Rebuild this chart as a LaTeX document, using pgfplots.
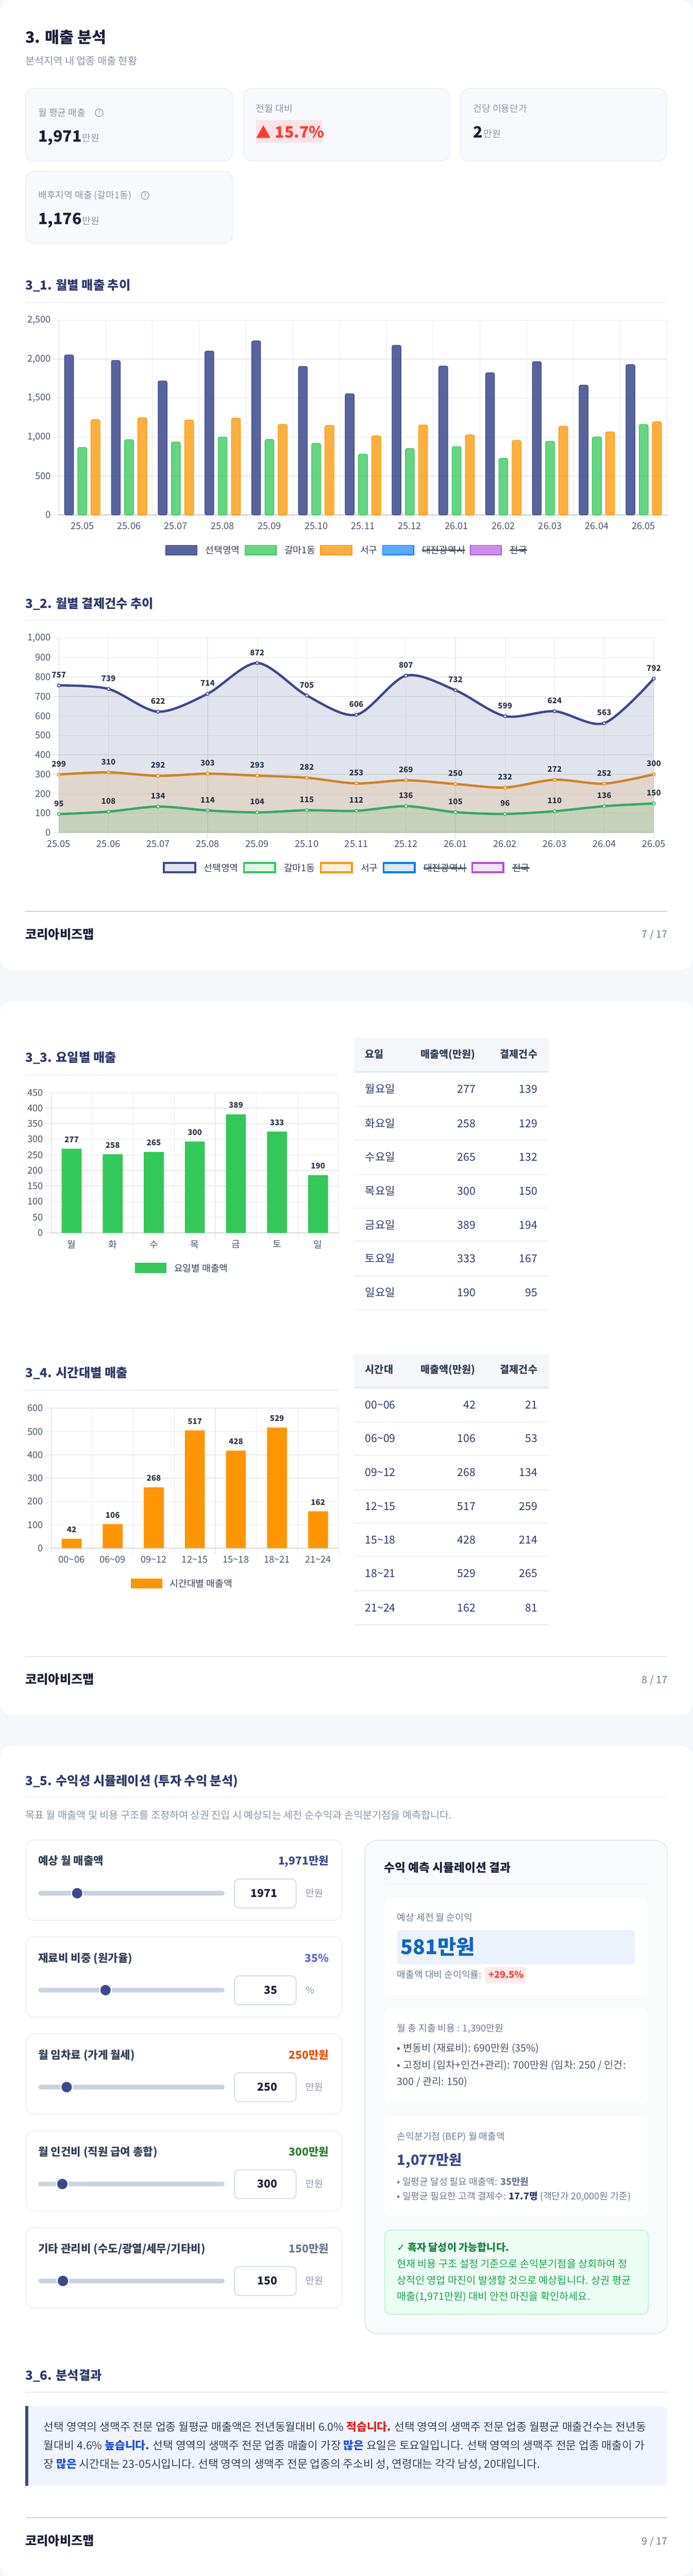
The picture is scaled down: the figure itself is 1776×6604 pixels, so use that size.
\documentclass[border=0pt]{standalone}
\usepackage{fontspec}
\usepackage{pgfplots}
\usepackage{pgfplotstable}
\pgfplotsset{compat=1.18}
\setmainfont{Noto Sans CJK KR}
\newfontfamily\djf{DejaVu Sans}
\definecolor{pagebg}{HTML}{F5F7FB}
\definecolor{navy}{HTML}{3B4A8A}
\definecolor{grn}{HTML}{34C759}
\definecolor{org}{HTML}{FF9500}
\definecolor{blu}{HTML}{007AFF}
\definecolor{pur}{HTML}{AF52DE}
\definecolor{ttl}{HTML}{2C3A68}
\definecolor{ink}{HTML}{1A2138}
\definecolor{mut}{HTML}{8A94A6}
\definecolor{rulec}{HTML}{F0F1F6}
\definecolor{cardbg}{HTML}{F7F9FC}
\definecolor{cardln}{HTML}{EEF0F5}
\definecolor{tk}{HTML}{475569}
\definecolor{gridc}{HTML}{EAEAEA}
\definecolor{dl}{HTML}{2D3748}
\definecolor{red}{HTML}{FF3B30}
\definecolor{pnk}{HTML}{F8E4E6}
\definecolor{trk}{HTML}{C9D3E0}
\definecolor{inb}{HTML}{CBD5E1}
\definecolor{lbl}{HTML}{334155}
\definecolor{gry}{HTML}{6B7A90}
\definecolor{bodyc}{HTML}{4A5568}
\definecolor{gtx}{HTML}{15803D}
\definecolor{tbv}{HTML}{2C3A68}
\definecolor{D9}{HTML}{D9D9D9}
\definecolor{F4}{HTML}{F4F6FA}
\definecolor{E2}{HTML}{E2E8F0}
\definecolor{F8}{HTML}{F8FAFC}
\definecolor{B1}{HTML}{EBF2FB}
\definecolor{B2}{HTML}{1565C0}
\definecolor{B3}{HTML}{F0F4FF}
\definecolor{B4}{HTML}{1D4ED8}
\definecolor{R2}{HTML}{DC2020}
\definecolor{G1}{HTML}{ECFDF3}
\definecolor{G2}{HTML}{BBF7D0}
\definecolor{G3}{HTML}{16A34A}
\definecolor{S2}{HTML}{5C6AC4}
\definecolor{S3}{HTML}{E65100}
\definecolor{S4}{HTML}{2E7D32}

\newcommand\tx[6][base west]{\node[anchor=#1,inner sep=0pt,text=#5] at (#2,{#3+0.36*#4}) {\fontsize{#4}{#4}\selectfont #6};}
\newcommand\rr[8]{\draw[rounded corners=#5,fill=#6,draw=#7,line width=#8] (#1,#2) rectangle (#3,#4);}
\newcommand\hr[4]{\fill[#4] (#1,{#3-1.5}) rectangle (#2,{#3+1.5});}
\newcommand\tl{\textasciitilde}
\newcommand\strike[1]{\setbox0\hbox{#1}\copy0\kern-\wd0\rule[0.3em]{\wd0}{2.5pt}}

\pgfplotsset{
 /pgf/number format/assume math mode=true,
 /pgf/number format/set thousands separator={,},
 base/.style={
  scale only axis, axis lines=left, axis line style={-},
  enlargelimits=false, clip=false,
  tick align=outside, major tick length=16pt, minor tick length=16pt,
  tick label style={font=\fontsize{24}{24}\selectfont, text=tk},
  yticklabel style={inner xsep=4pt},
  major y tick style={draw=gridc,line width=2pt},
  ymajorgrids, major y grid style={draw=gridc,line width=2pt},
  x axis line style={draw=D9,line width=3pt},
  y axis line style={draw=D9,line width=1.5pt},
  legend style={draw=none,fill=none,font=\fontsize{24}{24}\selectfont,text=lbl,
    legend cell align=left, anchor=center, inner sep=0pt,
    nodes={inner xsep=0pt,inner ysep=0pt},
    /tikz/every even column/.append style={column sep=12pt},
    /tikz/every odd column/.append style={column sep=20pt}},
  legend columns=-1,
 },
 catgrid/.style={
  major x tick style={draw=none},
  minor x tick style={draw=gridc,line width=1.5pt},
  xminorgrids, minor x grid style={draw=gridc,line width=1.5pt},
 },
 sw/.style n args={3}{legend image code/.code={\draw[draw=#1,fill=#2,line width=#3] (0pt,-12pt) rectangle (80pt,12pt);}},
 dlab/.style={nodes near coords, nodes near coords style={anchor=center,yshift=#1,inner sep=0pt,text=dl,font=\fontsize{20}{20}\selectfont\bfseries}},
 sliderax/.style={hide axis, scale only axis, width=443pt, height=12pt, clip=false, ymin=-1, ymax=1, xmin=0},
}

\pgfplotstableread{
x    sel  gal  seo
0.5  2055 867  1222
1.5  1984 966  1247
2.5  1720 936  1219
3.5  2104 1000 1242
4.5  2234 969  1161
5.5  1907 918  1150
6.5  1557 780  1015
7.5  2178 851  1155
8.5  1912 877  1028
9.5  1825 726  956
10.5 1968 946  1138
11.5 1667 1002 1066
12.5 1930 1161 1196
}\monthsales
\pgfplotstableread{
x  sel gal seo
0  757 95  299
1  739 108 310
2  622 134 292
3  714 114 303
4  872 104 293
5  705 115 282
6  606 112 253
7  807 136 269
8  732 105 250
9  599 96  232
10 624 110 272
11 563 136 252
12 792 150 300
}\monthcount
\pgfplotstableread{
x   y   lab
0.5 270 277
1.5 252 258
2.5 259 265
3.5 293 300
4.5 380 389
5.5 325 333
6.5 185 190
}\daysales
\pgfplotstableread{
x   y   lab
0.5 40.5 42
1.5 103 106
2.5 261 268
3.5 505 517
4.5 418 428
5.5 517 529
6.5 158 162
}\timesales

\begin{document}
\begin{tikzpicture}
\useasboundingbox (0pt,0pt) rectangle (1776pt,-6604pt);
\fill[pagebg] (0pt,0pt) rectangle (1776pt,-6604pt);
\begin{scope}[x=1pt,y=-1pt]
% page cards
\fill[white,rounded corners=32pt] (0,0) rectangle (1776,2486);
\fill[white,rounded corners=32pt] (0,2566) rectangle (1776,4396);
\fill[white,rounded corners=32pt] (0,4476) rectangle (1776,6604);
% heading
\tx{65}{96}{40}{ink}{\bfseries 3. 매출 분석}
\tx{65}{156}{26}{mut}{분석지역 내 업종 매출 현황}
\rr{66}{227}{596}{413}{22pt}{cardbg}{cardln}{2.5pt}
\rr{624}{227}{1152}{413}{22pt}{cardbg}{cardln}{2.5pt}
\rr{1180}{227}{1709}{413}{22pt}{cardbg}{cardln}{2.5pt}
\rr{66}{439}{596}{624}{22pt}{cardbg}{cardln}{2.5pt}
\tx{98}{289}{24}{mut}{월 평균 매출}
\draw[mut,line width=1.6pt] (254,289) circle (10);
\tx[base]{254}{289}{15}{mut}{?}
\tx{98}{349}{40}{ink}{\bfseries 1,971}
\tx{211}{354}{24}{mut}{만원}
\tx{656}{279}{24}{mut}{전월 대비}
\fill[pnk] (656,308) rectangle (826,366);
\fill[red] (657,353.5) -- (675,321) -- (693,353.5) -- cycle;
\tx{705}{339}{40}{red}{\bfseries 15.7\%}
\tx{1213}{279}{24}{mut}{건당 이용단가}
\tx{1213}{339}{40}{ink}{\bfseries 2}
\tx{1240}{343}{24}{mut}{만원}
\tx{98}{501}{24}{mut}{배후지역 매출 (갈마1동)}
\draw[mut,line width=1.6pt] (372,501) circle (10);
\tx[base]{372}{501}{15}{mut}{?}
\tx{98}{561}{40}{ink}{\bfseries 1,176}
\tx{211}{566}{24}{mut}{만원}
% section 3_1
\tx{65}{731}{32}{ttl}{\bfseries 3\_1. 월별 매출 추이}
\hr{65}{1710}{775}{rulec}
% section 3_2
\tx{65}{1548}{32}{ttl}{\bfseries 3\_2. 월별 결제건수 추이}
\hr{65}{1710}{1590}{rulec}
\fill[inb] (65,2335.5) rectangle (1711,2337.5);
\tx{65}{2395}{32}{ink}{\bfseries 코리아비즈맵}
\tx[base east]{1711}{2395}{26}{gry}{7 / 17}
% section 3_3
\tx{65}{2711}{32}{ttl}{\bfseries 3\_3. 요일별 매출}
\hr{65}{868}{2756}{rulec}
\fill[F4] (908,2662) rectangle (1406,2749);
\fill[E2] (908,2746) rectangle (1406,2750);
\tx{936}{2703}{26}{lbl}{\bfseries 요일}
\tx[base east]{1219}{2703}{26}{lbl}{\bfseries 매출액(만원)}
\tx[base east]{1378}{2703}{26}{lbl}{\bfseries 결제건수}
\foreach \yy/\ca/\cb/\cc/\cl in {2792/월요일/277/139/2837,2880/화요일/258/129/2923,2966/수요일/265/132/3011,3054/목요일/300/150/3097,3140/금요일/389/194/3182,3226/토요일/333/167/3271,3314/일요일/190/95/3357}{
 \tx{936}{\yy}{28}{tbv}{\ca}
 \tx[base east]{1219}{\yy}{28}{tbv}{\cb}
 \tx[base east]{1378}{\yy}{28}{tbv}{\cc}
 \hr{908}{1406}{\cl}{rulec}
}
% section 3_4
\tx{65}{3520}{32}{ttl}{\bfseries 3\_4. 시간대별 매출}
\hr{65}{868}{3564}{rulec}
\fill[F4] (908,3471) rectangle (1406,3558);
\fill[E2] (908,3555) rectangle (1406,3559);
\tx{936}{3511}{26}{lbl}{\bfseries 시간대}
\tx[base east]{1219}{3511}{26}{lbl}{\bfseries 매출액(만원)}
\tx[base east]{1378}{3511}{26}{lbl}{\bfseries 결제건수}
\foreach \yy/\ca/\cb/\cc/\cl in {3601/00\tl{}06/42/21/3645,3688/06\tl{}09/106/53/3731,3774/09\tl{}12/268/134/3819,3862/12\tl{}15/517/259/3904,3948/15\tl{}18/428/214/3990,4034/18\tl{}21/529/265/4078,4122/21\tl{}24/162/81/4165}{
 \tx{936}{\yy}{28}{tbv}{\ca}
 \tx[base east]{1219}{\yy}{28}{tbv}{\cb}
 \tx[base east]{1378}{\yy}{28}{tbv}{\cc}
 \hr{908}{1406}{\cl}{rulec}
}
\fill[inb] (65,4246) rectangle (1711,4248);
\tx{65}{4306}{32}{ink}{\bfseries 코리아비즈맵}
\tx[base east]{1711}{4306}{26}{gry}{8 / 17}
% section 3_5
\tx{65}{4566}{32}{ttl}{\bfseries 3\_5. 수익성 시뮬레이션 (투자 수익 분석)}
\hr{65}{1711}{4607}{rulec}
\tx{65}{4654}{26}{mut}{목표 월 매출액 및 비용 구조를 조정하여 상권 진입 시 예상되는 세전 순수익과 손익분기점을 예측합니다.}
\foreach \tp/\lab/\val/\vc/\num/\unit in {
 4717/예상 월 매출액/{1,971만원}/navy/1971/만원,
 4965.5/재료비 비중 (원가율)/35\%/S2/35/\%,
 5214/월 임차료 (가게 월세)/250만원/S3/250/만원,
 5462.5/월 인건비 (직원 급여 총합)/300만원/S4/300/만원,
 5711/{기타 관리비 (수도/광열/세무/기타비)}/150만원/gry/150/만원}{
 \pgfmathsetmacro\ya{\tp+206}\pgfmathsetmacro\yl{\tp+54}\pgfmathsetmacro\ys{\tp+136.5}
 \pgfmathsetmacro\yb{\tp+100}\pgfmathsetmacro\yc{\tp+174}
 \rr{66}{\tp}{877}{\ya}{22pt}{white}{cardln}{2.5pt}
 \tx{98}{\yl}{28}{lbl}{\bfseries\lab}
 \tx[base east]{843}{\yl}{28}{\vc}{\bfseries\val}
 \fill[trk,rounded corners=6pt] (98,{\ys-6}) rectangle (576,{\ys+6});
 \rr{601}{\yb}{759}{\yc}{12pt}{white}{inb}{2pt}
 \tx[base east]{711}{\ys}{28}{ink}{\bfseries\num}
 \tx{784}{\ys}{24}{gry!80}{\unit}
}
% right panel
\rr{935}{4718}{1711}{5983}{32pt}{F8}{E2}{2.5pt}
\tx{985}{4788}{30}{ink}{\bfseries 수익 예측 시뮬레이션 결과}
\fill[E2] (985,4830) rectangle (1662,4832);
\rr{986}{4866}{1660}{5114}{16pt}{white}{white}{0pt}
\tx{1018}{4916}{24}{gry}{예상 세전 월 순이익}
\fill[B1,rounded corners=6pt] (1018,4948) rectangle (1628,5036);
\tx{1027}{4992}{52}{B2}{\bfseries 581만원}
\tx{1018}{5062}{24}{gry}{매출액 대비 순이익률:}
\fill[red!10!white,rounded corners=8pt] (1244,5042) rectangle (1348,5084);
\tx{1252}{5063}{24}{red}{\bfseries +29.5\%}
\rr{986}{5149}{1660}{5391}{16pt}{white}{white}{0pt}
\tx{1018}{5200}{24}{gry}{월 총 지출 비용 : 1,390만원}
\tx{1018}{5251}{26}{bodyc}{• 변동비 (재료비): 690만원 (35\%)}
\tx{1018}{5294}{26}{bodyc}{• 고정비 (임차+인건+관리): 700만원 (임차: 250 / 인건:}
\tx{1018}{5336}{26}{bodyc}{300 / 관리: 150)}
\rr{986}{5426}{1660}{5682}{16pt}{white}{white}{0pt}
\tx{1018}{5477}{24}{gry}{손익분기점 (BEP) 월 매출액}
\tx{1018}{5537}{36}{navy}{\bfseries 1,077만원}
\tx{1018}{5593}{24}{gry}{• 일평균 달성 필요 매출액: {\bfseries 35만원}}
\tx{1018}{5631}{24}{gry}{• 일평균 필요한 고객 결제수: {\color{ttl}\bfseries 17.7명} (객단가 20,000원 기준)}
\rr{986}{5717}{1662}{5933}{16pt}{G1}{G2}{2.5pt}
\tx{1017}{5762}{26}{gtx}{{\djf ✓} \bfseries 흑자 달성이 가능합니다.}
\tx{1017}{5804}{26}{G3}{현재 비용 구조 설정 기준으로 손익분기점을 상회하여 정}
\tx{1017}{5846}{26}{G3}{상적인 영업 마진이 발생할 것으로 예상됩니다. 상권 평균}
\tx{1017}{5887}{26}{G3}{매출(1,971만원) 대비 안전 마진을 확인하세요.}
% section 3_6
\tx{65}{6090}{32}{ttl}{\bfseries 3\_6. 분석결과}
\hr{65}{1711}{6133}{rulec}
\fill[B3,rounded corners=14pt] (65,6168) rectangle (1711,6373);
\fill[navy] (65,6168) rectangle (73,6373);
\tx{112}{6222}{28.4}{lbl}{선택 영역의 생맥주 전문 업종 월평균 매출액은 전년동월대비 6.0\% {\color{R2}\bfseries 적습니다.} 선택 영역의 생맥주 전문 업종 월평균 매출건수는 전년동}
\tx{112}{6270}{28.4}{lbl}{월대비 4.6\% {\color{B4}\bfseries 높습니다.} 선택 영역의 생맥주 전문 업종 매출이 가장 {\color{B4}\bfseries 많은} 요일은 토요일입니다. 선택 영역의 생맥주 전문 업종 매출이 가}
\tx{112}{6317}{28.4}{lbl}{장 {\color{B4}\bfseries 많은} 시간대는 23-05시입니다. 선택 영역의 생맥주 전문 업종의 주소비 성, 연령대는 각각 남성, 20대입니다.}
\fill[inb] (65,6454) rectangle (1711,6456);
\tx{65}{6514}{32}{ink}{\bfseries 코리아비즈맵}
\tx[base east]{1711}{6514}{26}{gry}{9 / 17}
\end{scope}

% 3_1 chart
\begin{axis}[base,catgrid,at={(151pt,-1320pt)},anchor=south west,width=1559pt,height=499pt,
 xmin=0,xmax=13,ymin=0,ymax=2500,ytick={0,500,1000,1500,2000,2500},
 xtick={0.5,1.5,2.5,3.5,4.5,5.5,6.5,7.5,8.5,9.5,10.5,11.5,12.5},
 xticklabels={25.05,25.06,25.07,25.08,25.09,25.10,25.11,25.12,26.01,26.02,26.03,26.04,26.05},
 minor xtick={0,1,2,3,4,5,6,7,8,9,10,11,12,13},
 legend style={at={(rel axis cs:0.5,0)},xshift=-43pt,yshift=-90pt}]
\addplot[ybar,bar width=23pt,bar shift=-34pt,draw=navy,fill=navy,fill opacity=.85,line width=1.5pt,rounded corners=4pt,forget plot] table[x=x,y=sel]{\monthsales};
\addplot[ybar,bar width=23pt,bar shift=0pt,draw=grn,fill=grn,fill opacity=.75,line width=1.5pt,rounded corners=4pt,forget plot] table[x=x,y=gal]{\monthsales};
\addplot[ybar,bar width=23pt,bar shift=34pt,draw=org,fill=org,fill opacity=.75,line width=1.5pt,rounded corners=4pt,forget plot] table[x=x,y=seo]{\monthsales};
\addlegendimage{sw={navy}{navy!85!white}{2.5pt}}\addlegendentry{선택영역}
\addlegendimage{sw={grn}{grn!75!white}{2.5pt}}\addlegendentry{갈마1동}
\addlegendimage{sw={org}{org!75!white}{2.5pt}}\addlegendentry{서구}
\addlegendimage{sw={blu}{blu!65!white}{2.5pt}}\addlegendentry{\strike{대전광역시}}
\addlegendimage{sw={pur}{pur!65!white}{2.5pt}}\addlegendentry{\strike{전국}}
\end{axis}

% 3_2 chart
\begin{axis}[base,at={(151pt,-2134.5pt)},anchor=south west,width=1525pt,height=498.5pt,
 xmin=0,xmax=12,ymin=0,ymax=1000,ytick={0,100,200,300,400,500,600,700,800,900,1000},
 xtick={0,1,2,3,4,5,6,7,8,9,10,11,12},
 xticklabels={25.05,25.06,25.07,25.08,25.09,25.10,25.11,25.12,26.01,26.02,26.03,26.04,26.05},
 xmajorgrids, major x grid style={draw=gridc,line width=1.5pt},
 major x tick style={draw=gridc,line width=1.5pt},
 legend style={at={(rel axis cs:0.5,0)},xshift=-26pt,yshift=-90pt}]
\addplot[smooth,draw=none,fill=org,fill opacity=.15,forget plot] table[x=x,y=seo]{\monthcount} \closedcycle;
\addplot[smooth,draw=org!90!navy,line width=6pt,mark=*,mark size=4pt,mark options={fill=org!20!white,draw=org!90!navy,line width=2pt},forget plot] table[x=x,y=seo]{\monthcount};
\addplot[smooth,draw=none,fill=grn,fill opacity=.15,forget plot] table[x=x,y=gal]{\monthcount} \closedcycle;
\addplot[smooth,draw=grn!90!navy,line width=6pt,mark=*,mark size=4pt,mark options={fill=grn!20!white,draw=grn!90!navy,line width=2pt},forget plot] table[x=x,y=gal]{\monthcount};
\addplot[smooth,draw=none,fill=navy,fill opacity=.15,forget plot] table[x=x,y=sel]{\monthcount} \closedcycle;
\addplot[smooth,draw=navy,line width=6pt,mark=*,mark size=4pt,mark options={fill=navy!15!white,draw=navy,line width=2pt},forget plot] table[x=x,y=sel]{\monthcount};
\addplot[draw=none,mark=none,dlab=27pt,forget plot] table[x=x,y=sel]{\monthcount};
\addplot[draw=none,mark=none,dlab=27pt,forget plot] table[x=x,y=gal]{\monthcount};
\addplot[draw=none,mark=none,dlab=27pt,forget plot] table[x=x,y=seo]{\monthcount};
\addlegendimage{sw={navy}{navy!15!white}{5pt}}\addlegendentry{선택영역}
\addlegendimage{sw={grn}{grn!15!white}{5pt}}\addlegendentry{갈마1동}
\addlegendimage{sw={org}{org!15!white}{5pt}}\addlegendentry{서구}
\addlegendimage{sw={blu}{blu!15!white}{5pt}}\addlegendentry{\strike{대전광역시}}
\addlegendimage{sw={pur}{pur!15!white}{5pt}}\addlegendentry{\strike{전국}}
\end{axis}

% 3_3 chart
\begin{axis}[base,catgrid,at={(131pt,-3160.5pt)},anchor=south west,width=737pt,height=359.5pt,
 xmin=0,xmax=7,ymin=0,ymax=450,ytick={0,50,100,150,200,250,300,350,400,450},
 xtick={0.5,1.5,2.5,3.5,4.5,5.5,6.5},xticklabels={월,화,수,목,금,토,일},
 minor xtick={0,1,2,3,4,5,6,7},
 legend style={at={(rel axis cs:0.5,0)},xshift=-34pt,yshift=-90pt}]
\addplot[ybar,bar width=51pt,bar shift=0pt,draw=none,fill=grn,point meta=explicit symbolic,dlab=23.5pt,forget plot] table[x=x,y=y,meta=lab]{\daysales};
\addlegendimage{sw={grn}{grn}{0pt}}\addlegendentry{요일별 매출액}
\end{axis}

% 3_4 chart
\begin{axis}[base,catgrid,at={(131pt,-3969pt)},anchor=south west,width=737pt,height=359pt,
 xmin=0,xmax=7,ymin=0,ymax=600,ytick={0,100,200,300,400,500,600},
 xtick={0.5,1.5,2.5,3.5,4.5,5.5,6.5},
 xticklabels={00\tl{}06,06\tl{}09,09\tl{}12,12\tl{}15,15\tl{}18,18\tl{}21,21\tl{}24},
 minor xtick={0,1,2,3,4,5,6,7},
 legend style={at={(rel axis cs:0.5,0)},xshift=-34pt,yshift=-90pt}]
\addplot[ybar,bar width=51pt,bar shift=0pt,draw=none,fill=org,point meta=explicit symbolic,dlab=23pt,forget plot] table[x=x,y=y,meta=lab]{\timesales};
\addlegendimage{sw={org}{org}{0pt}}\addlegendentry{시간대별 매출액}
\end{axis}

% sliders
\begin{axis}[sliderax,at={(115.5pt,-4853.5pt)},anchor=west,xmax=10600]
\addplot[only marks,mark=*,mark size=15pt,mark options={fill=navy,draw=white,line width=3pt}] coordinates {(1971,0)};
\end{axis}
\begin{axis}[sliderax,at={(115.5pt,-5102pt)},anchor=west,xmax=100]
\addplot[only marks,mark=*,mark size=15pt,mark options={fill=navy,draw=white,line width=3pt}] coordinates {(35,0)};
\end{axis}
\begin{axis}[sliderax,at={(115.5pt,-5350.5pt)},anchor=west,xmax=2000]
\addplot[only marks,mark=*,mark size=15pt,mark options={fill=navy,draw=white,line width=3pt}] coordinates {(250,0)};
\end{axis}
\begin{axis}[sliderax,at={(115.5pt,-5599pt)},anchor=west,xmax=3000]
\addplot[only marks,mark=*,mark size=15pt,mark options={fill=navy,draw=white,line width=3pt}] coordinates {(300,0)};
\end{axis}
\begin{axis}[sliderax,at={(115.5pt,-5847.5pt)},anchor=west,xmax=1450]
\addplot[only marks,mark=*,mark size=15pt,mark options={fill=navy,draw=white,line width=3pt}] coordinates {(150,0)};
\end{axis}
\end{tikzpicture}
\end{document}
